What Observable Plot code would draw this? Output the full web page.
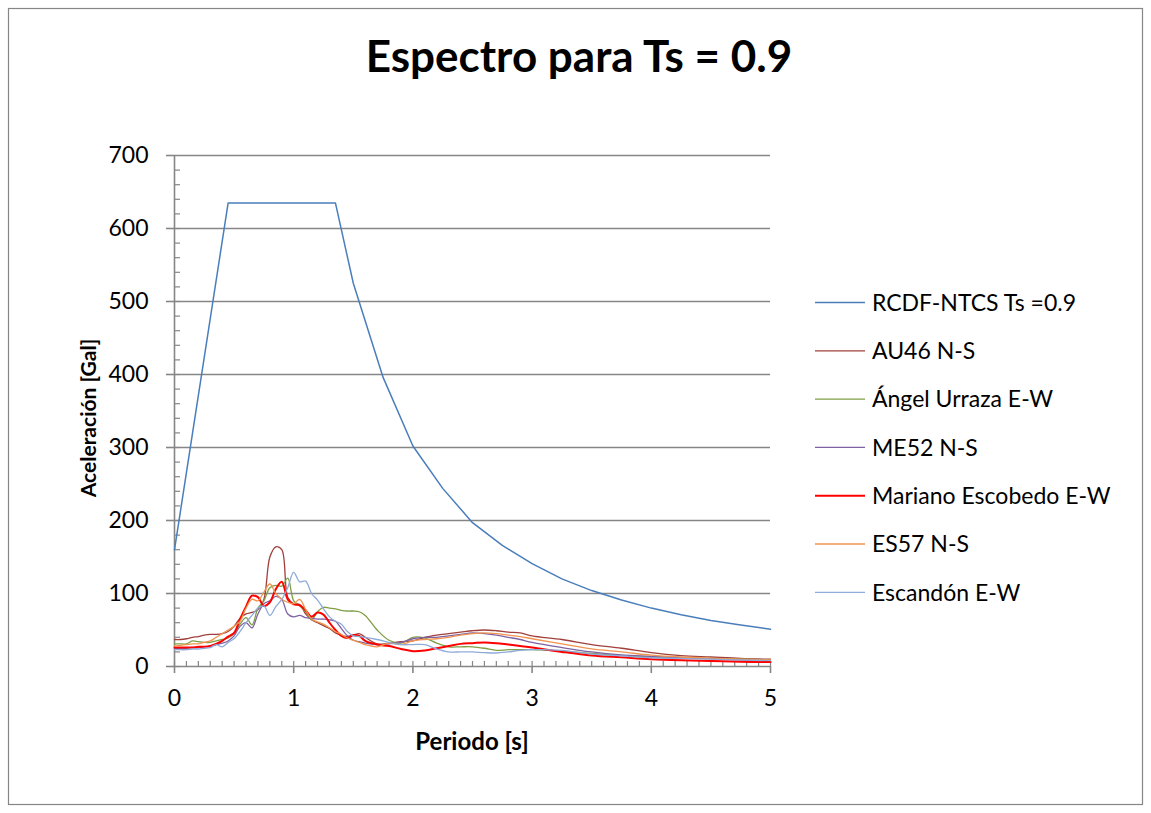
<!DOCTYPE html>
<html><head><meta charset="utf-8">
<script src="https://cdn.jsdelivr.net/npm/d3@7"></script>
<script src="https://cdn.jsdelivr.net/npm/@observablehq/plot@0.6"></script>
<style>body{margin:0;background:#fff} svg{display:block}</style>
</head><body><div id="chart"></div>
<script>
// Shared period grid (s) for the recorded spectra
const periods = [0,0.05,0.1,0.15,0.2,0.25,0.3,0.35,0.4,0.45,0.5,0.55,0.6,0.65,0.7,0.75,0.8,0.85,0.9,0.95,1.0,1.05,1.1,1.15,1.2,1.25,1.3,1.35,1.4,1.45,1.5,1.55,1.6,1.7,1.8,1.9,2.0,2.1,2.2,2.3,2.4,2.5,2.6,2.7,2.8,2.9,3.0,3.25,3.5,3.75,4.0,4.25,4.5,4.75,5.0];
const au46 =    [37,37,38,40,41,43,44,44,45,48, 55,66,72,74,78,92,150,164,160,95, 86,85,72,64,60,56,52,46,43,41, 43,45,40, 31,32,34,35,40,43,45,47,49,50,49,47,46,42, 37,30,25,19,15,13,11,10];
const urraza =  [31,31,31,35,34,33,33,35,37,39, 45,58,67,57,80,90,108,111,110,121, 90,83,75,64,75,81,80,79,77,76, 76,75,70, 50,36,32,40,39,32,27,27,27,25,22,23,23,23, 21,18,15,13,12,11,10,9];
const me52 =    [25,25,25,26,26,27,28,30,32,35, 42,55,60,53,72,86,90,96,92,72, 68,70,67,66,65,65,64,62,52,42, 36,34,32, 30,31,33,38,40,40,42,44,46,45,43,40,37,33, 26,20,16,14,12,10.5,9,8];
const escobedo =[26,26,26,26,27,27,28,31,35,41, 46,65,82,97,95,83,88,106,116,92, 85,84,77,68,74,71,60,50,42,39, 43,42,35, 30,28,24,21,22,25,28,31,32,33,32,30,28,26, 20,15,12.5,10,8.5,7.5,6.5,6];
const es57 =    [28,29,30,31,31,33,35,40,45,50, 55,62,80,92,90,102,113,100,92,88, 86,92,78,65,61,58,53,48,44,39, 36,33,30, 27,32,30,35,37,38,40,43,45,46,45,43,41,38, 31,24,20,15.5,13,11.5,10,9];
const escandon =[23,23,23,24,24,25,26,30,27,33, 38,48,60,70,80,83,70,82,92,108, 129,116,117,100,91,79,68,62,58,48, 42,41,40, 37,33,30,30,30,24,20,20,20,19,18.5,20,22,23, 22,17,14.5,12,11,10,9,8];

// Design spectrum RCDF-NTCS
const rcdfT = [0,0.45,1.35,1.5,1.75,2,2.25,2.5,2.75,3,3.25,3.5,3.75,4,4.25,4.5,4.75,5];
const rcdfA = [160,635,635,525,396,302,244,197,166,141,120,104,91,80,71,63,57,51];

const seriesNames = ["RCDF-NTCS Ts =0.9","AU46 N-S","Ángel Urraza E-W","ME52 N-S","Mariano Escobedo E-W","ES57 N-S","Escandón E-W"];
const seriesColors = ["#4A7EBB","#A0403C","#7F9F45","#7E62A4","#FF0000","#F0944F","#8EABD9"];
const seriesWidths = [1.5,1.3,1.3,1.3,2,1.3,1.3];

const yMajor = [0,100,200,300,400,500,600,700];
const yMinor = [0,20,40,60,80,100,120,140,160,180,200,220,240,260,280,300,320,340,360,380,400,420,440,460,480,500,520,540,560,580,600,620,640,660,680];
const xMajor = [0,1,2,3,4,5];
const xMinor = [0,0.1,0.2,0.3,0.4,0.5,0.6,0.7,0.8,0.9,1,1.1,1.2,1.3,1.4,1.5,1.6,1.7,1.8,1.9,2,2.1,2.2,2.3,2.4,2.5,2.6,2.7,2.8,2.9,3,3.1,3.2,3.3,3.4,3.5,3.6,3.7,3.8,3.9,4,4.1,4.2,4.3,4.4,4.5,4.6,4.7,4.8,4.9,5];

const title = "Espectro para Ts = 0.9";
const xLabel = "Periodo [s]";
const yLabel = "Aceleración [Gal]";

const recordArrays = [au46, urraza, me52, escobedo, es57, escandon];
const rcdfData = rcdfT.map((t,i) => ({T: t, A: rcdfA[i]}));
const recordData = recordArrays.map(arr => periods.map((t,i) => ({T: t, A: arr[i]})));

const gray = "#868686";
const W = 1151, H = 813;
const plot = Plot.plot({
  width: W, height: H,
  marginLeft: 174, marginRight: 381, marginTop: 155, marginBottom: 147,
  style: {fontFamily: "Lato, sans-serif", fontSize: "23px", color: "#000", background: "transparent", overflow: "visible"},
  x: {domain: [0,5]},
  y: {domain: [0,700]},
  marks: [
    Plot.ruleY(yMajor.filter(d => d > 0), {stroke: gray, strokeWidth: 1.6}),
    Plot.axisY({ticks: yMinor, tickSize: 6, dx: 6, tickFormat: () => "", stroke: gray, strokeWidth: 1.2, label: null}),
    Plot.axisY({ticks: yMajor, tickSize: 8, tickPadding: 18, stroke: gray, strokeWidth: 1.6, label: null, tickFormat: d => String(d)}),
    Plot.axisX({ticks: xMinor, tickSize: 5, dy: -5, tickFormat: () => "", stroke: gray, strokeWidth: 1.2, label: null}),
    Plot.axisX({ticks: xMajor, tickSize: 7, tickPadding: 16, stroke: gray, strokeWidth: 1.6, label: null, tickFormat: d => String(d)}),
    Plot.ruleX([0], {stroke: gray, strokeWidth: 1.6}),
    Plot.ruleY([0], {stroke: gray, strokeWidth: 1.6}),
    Plot.line(rcdfData, {x: "T", y: "A", stroke: seriesColors[0], strokeWidth: seriesWidths[0]}),
    ...recordData.map((d, k) => Plot.line(d, {x: "T", y: "A", stroke: seriesColors[k+1], strokeWidth: seriesWidths[k+1], curve: "catmull-rom"}))
  ]
});

const svg = d3.select(plot);
svg.insert("rect", ":first-child").attr("x", 8.5).attr("y", 8.5).attr("width", 1134).attr("height", 796)
  .attr("fill", "#fff").attr("stroke", gray).attr("stroke-width", 1.2);
svg.append("text").attr("x", 579).attr("y", 72).attr("text-anchor", "middle")
  .attr("font-family", "Lato, sans-serif").attr("font-weight", "bold").attr("font-size", 44).attr("fill", "#000").text(title);
svg.append("text").attr("x", 472).attr("y", 750).attr("text-anchor", "middle")
  .attr("font-family", "Lato, sans-serif").attr("font-weight", "bold").attr("font-size", 24).attr("fill", "#000").text(xLabel);
svg.append("text").attr("transform", "translate(96,418) rotate(-90)").attr("text-anchor", "middle")
  .attr("font-family", "Lato, sans-serif").attr("font-weight", "bold").attr("font-size", 21).attr("fill", "#000").text(yLabel);

const lg = svg.append("g");
seriesNames.forEach((name, i) => {
  const y = 302.5 + i * 48.3;
  lg.append("line").attr("x1", 815).attr("x2", 865).attr("y1", y).attr("y2", y)
    .attr("stroke", seriesColors[i]).attr("stroke-width", seriesWidths[i]);
  lg.append("text").attr("x", 872).attr("y", y).attr("dy", "0.36em").attr("text-anchor", "start")
    .attr("font-family", "Lato, sans-serif").attr("font-size", 23).attr("fill", "#000").text(name);
});

document.getElementById("chart").appendChild(plot);
</script>
</body></html>
